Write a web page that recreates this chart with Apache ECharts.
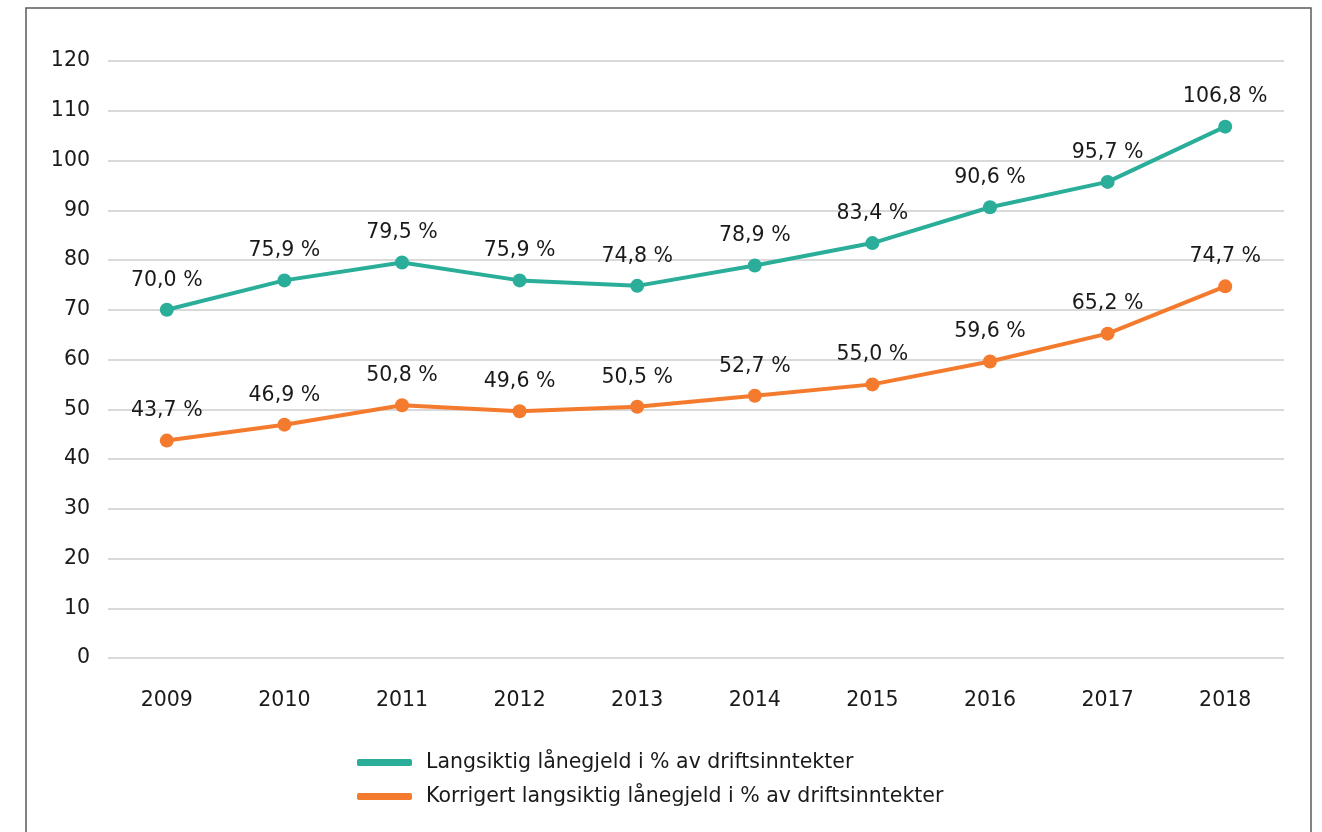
<!DOCTYPE html>
<html><head><meta charset="utf-8">
<script src="https://cdn.jsdelivr.net/npm/echarts@6/dist/echarts.min.js"></script>
<style>html,body{margin:0;padding:0;background:#fff}#c{width:1322px;height:832px}</style>
</head><body><div id="c"></div>
<script>
const years = ['2009','2010','2011','2012','2013','2014','2015','2016','2017','2018'];
const langsiktig = [70.0, 75.9, 79.5, 75.9, 74.8, 78.9, 83.4, 90.6, 95.7, 106.8];
const korrigert = [43.7, 46.9, 50.8, 49.6, 50.5, 52.7, 55.0, 59.6, 65.2, 74.7];
const seriesNames = ['Langsiktig lånegjeld i % av driftsinntekter', 'Korrigert langsiktig lånegjeld i % av driftsinntekter'];
const colors = ['#2aae9a', '#f47b2e'];
const font = '"DejaVu Sans", sans-serif';
const fs = 20.5;
const chart = echarts.init(document.getElementById('c'));
function mk(name, data, color) {
  return {
    name, type: 'line', data, color,
    symbol: 'circle', symbolSize: 14,
    lineStyle: { width: 4, color },
    itemStyle: { color },
    label: { show: true, position: 'top', distance: 12, color: '#1a1a1a', fontSize: fs, fontFamily: font,
      formatter: p => p.value.toFixed(1).replace('.', ',') + ' %' },
    animation: false
  };
}
chart.setOption({
  animation: false,
  graphic: [{ type: 'rect', shape: { x: 26, y: 8, width: 1285, height: 900 }, style: { fill: 'none', stroke: '#5a5a5a', lineWidth: 1.5 }, silent: true }],
  grid: { left: 108, right: 38, top: 61, bottom: 174, containLabel: false },
  xAxis: { type: 'category', data: years, boundaryGap: true,
    axisLine: { show: false }, axisTick: { show: false },
    axisLabel: { color: '#1a1a1a', fontSize: fs, fontFamily: font, margin: 32 } },
  yAxis: { type: 'value', min: 0, max: 120, interval: 10,
    axisLine: { show: false }, axisTick: { show: false },
    splitLine: { lineStyle: { color: '#d9d9d9', width: 2 } },
    axisLabel: { color: '#1a1a1a', fontSize: fs, fontFamily: font, margin: 18 } },
  legend: { orient: 'vertical', left: 352, top: 747, itemWidth: 55, itemHeight: 7, itemGap: 13,
    icon: 'roundRect',
    textStyle: { color: '#1a1a1a', fontSize: fs, fontFamily: font, padding: [0, 0, 0, 9] },
    data: seriesNames },
  series: [mk(seriesNames[0], langsiktig, colors[0]), mk(seriesNames[1], korrigert, colors[1])]
});
</script></body></html>
